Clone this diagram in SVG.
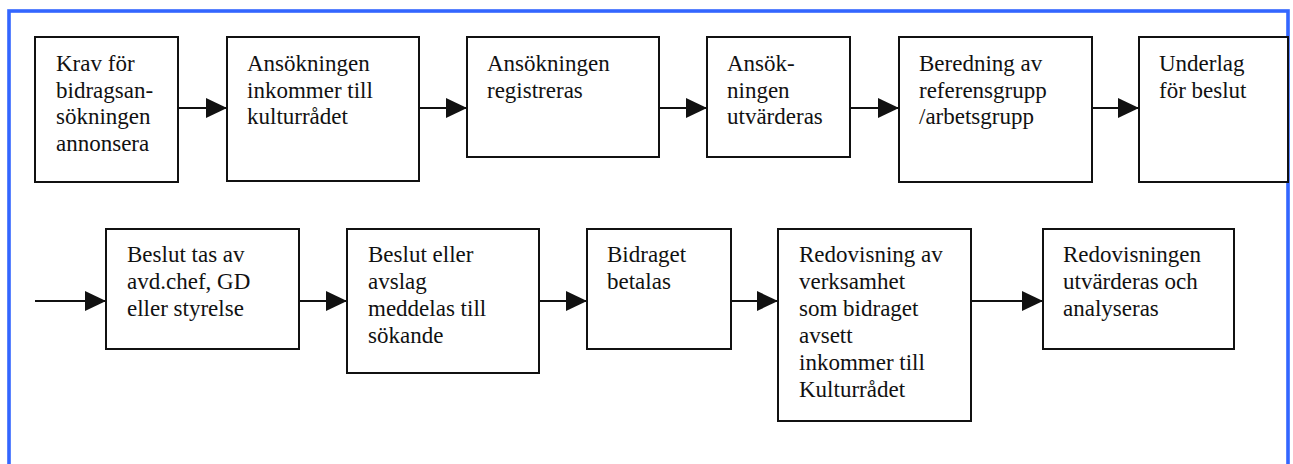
<svg xmlns="http://www.w3.org/2000/svg" width="1293" height="464" viewBox="0 0 1293 464">
  <style>
    .box { fill: #ffffff; stroke: #111111; stroke-width: 2; }
    .lbl { font-family: 'Liberation Serif', 'Times New Roman', Times, 'DejaVu Serif', serif; font-size: 23px; fill: #111111; }
    .conn { stroke: #111111; stroke-width: 2; fill: none; marker-end: url(#arrow); }
    .frame { fill: none; stroke: #3366ff; stroke-width: 3.6; }
  </style>
  <defs>
    <marker id="arrow" markerUnits="userSpaceOnUse" markerWidth="22" markerHeight="20" refX="21" refY="10" orient="auto">
      <path d="M0,0 L21,10 L0,20 Z" fill="#111111"/>
    </marker>
  </defs>
  <rect width="1293" height="464" fill="#ffffff"/>
  <rect class="frame" x="9" y="11" width="1279" height="500"/>

  <g id="connectors">
    <line class="conn" x1="178" y1="108" x2="227" y2="108"/>
    <line class="conn" x1="419" y1="108" x2="467" y2="108"/>
    <line class="conn" x1="659" y1="108" x2="707" y2="108"/>
    <line class="conn" x1="850" y1="108" x2="899" y2="108"/>
    <line class="conn" x1="1092" y1="108" x2="1139" y2="108"/>
    <line class="conn" x1="35" y1="301" x2="106" y2="301"/>
    <line class="conn" x1="299" y1="301" x2="347" y2="301"/>
    <line class="conn" x1="539" y1="301" x2="587" y2="301"/>
    <line class="conn" x1="731" y1="301" x2="778" y2="301"/>
    <line class="conn" x1="971" y1="301" x2="1043" y2="301"/>
  </g>

  <g id="n1">
    <rect class="box" x="35" y="37" width="143" height="145"/>
    <text class="lbl" font-family="Liberation Serif, serif" x="56" y="71">Krav för</text>
    <text class="lbl" x="56" y="97.5">bidragsan-</text>
    <text class="lbl" x="56" y="124">sökningen</text>
    <text class="lbl" x="56" y="150.5">annonsera</text>
  </g>
  <g id="n2">
    <rect class="box" x="227" y="37" width="192" height="144"/>
    <text class="lbl" x="247" y="71">Ansökningen</text>
    <text class="lbl" x="247" y="97.5">inkommer till</text>
    <text class="lbl" x="247" y="124">kulturrådet</text>
  </g>
  <g id="n3">
    <rect class="box" x="467" y="37" width="192" height="120"/>
    <text class="lbl" x="487" y="71">Ansökningen</text>
    <text class="lbl" x="487" y="97.5">registreras</text>
  </g>
  <g id="n4">
    <rect class="box" x="707" y="37" width="143" height="120"/>
    <text class="lbl" x="727" y="71">Ansök-</text>
    <text class="lbl" x="727" y="97.5">ningen</text>
    <text class="lbl" x="727" y="124">utvärderas</text>
  </g>
  <g id="n5">
    <rect class="box" x="899" y="37" width="193" height="145"/>
    <text class="lbl" x="919" y="71">Beredning av</text>
    <text class="lbl" x="919" y="97.5">referensgrupp</text>
    <text class="lbl" x="919" y="124">/arbetsgrupp</text>
  </g>
  <g id="n6">
    <rect class="box" x="1139" y="37" width="149" height="145"/>
    <text class="lbl" x="1159" y="71">Underlag</text>
    <text class="lbl" x="1159" y="97.5">för beslut</text>
  </g>

  <g id="n7">
    <rect class="box" x="106" y="229" width="193" height="120"/>
    <text class="lbl" x="127" y="262">Beslut tas av</text>
    <text class="lbl" x="127" y="289">avd.chef, GD</text>
    <text class="lbl" x="127" y="316">eller styrelse</text>
  </g>
  <g id="n8">
    <rect class="box" x="347" y="229" width="192" height="144"/>
    <text class="lbl" x="368" y="262">Beslut eller</text>
    <text class="lbl" x="368" y="289">avslag</text>
    <text class="lbl" x="368" y="316">meddelas till</text>
    <text class="lbl" x="368" y="343">sökande</text>
  </g>
  <g id="n9">
    <rect class="box" x="587" y="229" width="144" height="120"/>
    <text class="lbl" x="607" y="262">Bidraget</text>
    <text class="lbl" x="607" y="289">betalas</text>
  </g>
  <g id="n10">
    <rect class="box" x="778" y="229" width="193" height="192"/>
    <text class="lbl" x="799" y="262">Redovisning av</text>
    <text class="lbl" x="799" y="289">verksamhet</text>
    <text class="lbl" x="799" y="316">som bidraget</text>
    <text class="lbl" x="799" y="343">avsett</text>
    <text class="lbl" x="799" y="370">inkommer till</text>
    <text class="lbl" x="799" y="397">Kulturrådet</text>
  </g>
  <g id="n11">
    <rect class="box" x="1043" y="229" width="191" height="120"/>
    <text class="lbl" x="1063" y="262">Redovisningen</text>
    <text class="lbl" x="1063" y="289">utvärderas och</text>
    <text class="lbl" x="1063" y="316">analyseras</text>
  </g>
</svg>
